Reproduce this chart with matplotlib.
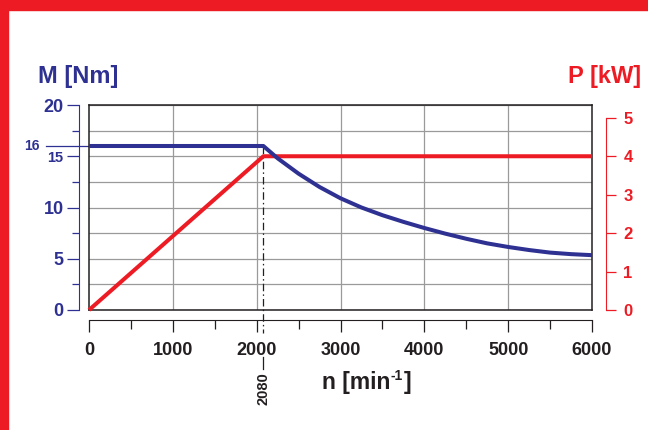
import matplotlib
matplotlib.use("Agg")
import matplotlib.pyplot as plt
from matplotlib.patches import Rectangle
from matplotlib.ticker import MultipleLocator

plt.rcParams['font.family'] = ['Liberation Sans', 'DejaVu Sans']
plt.rcParams['font.weight'] = 'bold'

# speed / torque / power values
n_torque = [0, 2080, 2250, 2500, 2750, 3000, 3250, 3500, 3750, 4000, 4250, 4500,
            4750, 5000, 5250, 5500, 5750, 6000]
torque = [16, 16, 14.8, 13.3, 12.0, 10.9, 10.0, 9.25, 8.6, 8.0, 7.45, 6.95,
          6.5, 6.15, 5.85, 5.6, 5.45, 5.35]
n_power = [0, 2080, 6000]
power = [0, 4, 4]
n_corner = 2080
m_nominal = 16

x_ticks = [0, 1000, 2000, 3000, 4000, 5000, 6000]
m_ticks = [0, 5, 10, 15, 20]
m_labels = ["0", "5", "10", "", "20"]
p_ticks = [0, 1, 2, 3, 4, 5]

BLUE = "#2e3192"
RED = "#ed1c24"
DARK = "#231f20"
GRID = "#9a9a9a"

fig = plt.figure(figsize=(6.48, 4.30), dpi=100)
# red frame on top and left
fig.patches.append(Rectangle((0, 1 - 9.5 / 430), 1, 9.5 / 430, transform=fig.transFigure,
                             color=RED, zorder=0))
fig.patches.append(Rectangle((0, 0), 8 / 648, 1, transform=fig.transFigure, color=RED, zorder=0))

ax = fig.add_axes([89 / 648, 1 - 310 / 430, (592 - 89) / 648, (310 - 105) / 430])
ax.set_xlim(0, 6000)
ax.set_ylim(0, 20)
ax.set_xticks([1000, 2000, 3000, 4000, 5000])
ax.yaxis.set_major_locator(MultipleLocator(2.5))
ax.tick_params(length=0, labelbottom=False, labelleft=False)
ax.grid(True, color=GRID, lw=0.9)
for s in ax.spines.values():
    s.set_color(DARK)
    s.set_linewidth(1.1)

# dash-dot marker of the corner speed
ax.plot([n_corner, n_corner], [m_nominal, -2.25], color=DARK, lw=0.9,
        ls=(0, (6, 2.5, 1.2, 2.5)), clip_on=False, zorder=3)
ax.plot([n_corner, n_corner], [-4.6, -5.8], color=DARK, lw=0.9, clip_on=False)
ax.text(n_corner, -6.1, "2080", rotation=90, ha="center", va="top", fontsize=10.5, color=DARK)

# power plotted on the torque scale (4 kW sits on 15 Nm)
ax.plot(n_power, [p * 3.75 for p in power], color=RED, lw=2.9,
        solid_capstyle="butt", zorder=4, clip_on=False)
ax.plot(n_torque, torque, color=BLUE, lw=2.9, solid_joinstyle="round", zorder=5)

# thin line out to the "16" label
ax.plot([-43 / 503 * 6000, 0], [m_nominal, m_nominal], color=BLUE, lw=0.9, clip_on=False)
ax.text(-57 / 503 * 6000, m_nominal, "16", ha="center", va="center", fontsize=10, color=BLUE)
# the small "15" label sits just under that line
ax.text(-26 / 503 * 6000, 14.8, "15", ha="right", va="center", fontsize=10.5, color=BLUE)

# left torque scale
axl = ax.secondary_yaxis(-10 / 503)
axl.set_yticks(m_ticks, m_labels)
axl.yaxis.set_minor_locator(MultipleLocator(2.5))
axl.spines['left'].set_color(BLUE)
axl.tick_params(axis='y', which='major', colors=BLUE, length=8.5, width=0.9, pad=2.5,
                labelsize=13)
axl.tick_params(axis='y', which='minor', colors=BLUE, length=5, width=0.9)
for lab in axl.get_yticklabels():
    lab.set_fontweight('bold')

# right power scale
ax2 = ax.twinx()
ax2.set_ylim(0, 20 / 3.75)
ax2.set_yticks(p_ticks)
for name in ['top', 'bottom', 'left']:
    ax2.spines[name].set_visible(False)
ax2.spines['right'].set_position(('outward', 10))
ax2.spines['right'].set_bounds(0, 5)
ax2.spines['right'].set_color(RED)
ax2.tick_params(axis='y', colors=RED, length=7.5, width=0.9, pad=5, labelsize=12)
for lab in ax2.get_yticklabels():
    lab.set_fontweight('bold')

# speed scale
axb = ax.secondary_xaxis(-10 / 205)
axb.set_xticks(x_ticks)
axb.xaxis.set_minor_locator(MultipleLocator(500))
axb.spines['bottom'].set_color(DARK)
axb.tick_params(axis='x', which='major', colors=DARK, length=8.5, width=0.9, pad=7,
                labelsize=13)
axb.tick_params(axis='x', which='minor', colors=DARK, length=6.5, width=0.9)
for lab in axb.get_xticklabels():
    lab.set_fontweight('bold')

fig.text(38 / 648, 1 - 77 / 430, "M [Nm]", color=BLUE, fontsize=17, fontweight='bold',
         ha="left", va="center")
fig.text(641 / 648, 1 - 77 / 430, "P [kW]", color=RED, fontsize=17, fontweight='bold',
         ha="right", va="center")

# axis title n [min-1] built from pieces so the superscript uses a plain hyphen
renderer = fig.canvas.get_renderer()
t1 = fig.text(322 / 648, 1 - 383 / 430, "n [min", color=DARK, fontsize=16.5,
              fontweight='bold', ha="left", va="center")
x1 = t1.get_window_extent(renderer).x1
t2 = fig.text(x1 / 648 + 0.5 / 648, 1 - 376 / 430, "-1", color=DARK, fontsize=10,
              fontweight='bold', ha="left", va="center")
x2 = t2.get_window_extent(renderer).x1
fig.text(x2 / 648 + 1 / 648, 1 - 383 / 430, "]", color=DARK, fontsize=16.5,
         fontweight='bold', ha="left", va="center")

fig.savefig("out.png", dpi=100)
